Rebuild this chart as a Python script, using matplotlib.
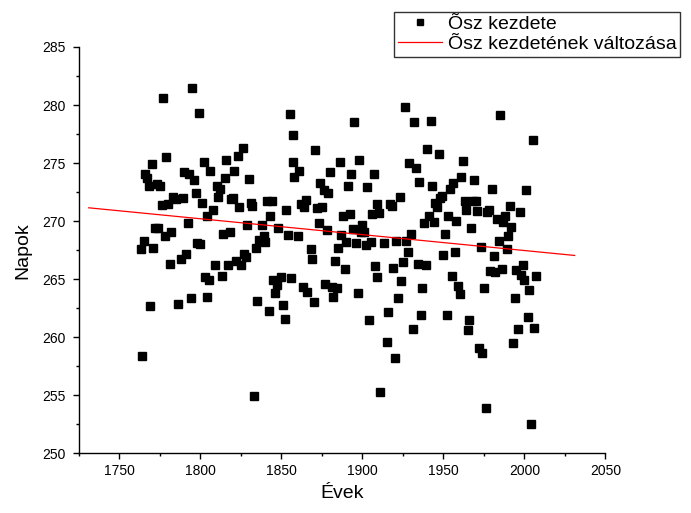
import numpy as np
import matplotlib
matplotlib.use("Agg")
import matplotlib.pyplot as plt
from matplotlib.ticker import MultipleLocator

plt.rcParams["font.family"] = ["Liberation Sans", "DejaVu Sans"]

# Autumn onset, day of year, one row per observed year
YEARS = [
    1763, 1764, 1765, 1766, 1767, 1768, 1769, 1770, 1771, 1772,
    1773, 1774, 1775, 1776, 1777, 1778, 1779, 1780, 1781, 1782,
    1783, 1785, 1786, 1788, 1789, 1790, 1791, 1792, 1793, 1794,
    1795, 1796, 1797, 1798, 1799, 1800, 1801, 1802, 1803, 1804,
    1804, 1805, 1806, 1808, 1809, 1810, 1811, 1812, 1813, 1814,
    1815, 1816, 1817, 1818, 1819, 1820, 1821, 1822, 1823, 1824,
    1825, 1826, 1827, 1828, 1829, 1830, 1831, 1832, 1833, 1834,
    1835, 1836, 1838, 1839, 1840, 1841, 1842, 1843, 1844, 1845,
    1846, 1847, 1848, 1850, 1851, 1852, 1853, 1854, 1855, 1856,
    1857, 1857, 1858, 1860, 1861, 1862, 1863, 1864, 1865, 1866,
    1868, 1869, 1870, 1871, 1872, 1873, 1874, 1875, 1876, 1877,
    1878, 1879, 1880, 1881, 1882, 1883, 1884, 1885, 1886, 1887,
    1888, 1889, 1890, 1891, 1892, 1893, 1894, 1895, 1896, 1897,
    1898, 1899, 1900, 1901, 1902, 1903, 1904, 1905, 1906, 1907,
    1908, 1909, 1909, 1910, 1911, 1913, 1915, 1916, 1917, 1918,
    1919, 1920, 1921, 1922, 1923, 1924, 1925, 1926, 1927, 1928,
    1929, 1930, 1931, 1932, 1933, 1934, 1935, 1936, 1937, 1938,
    1939, 1940, 1941, 1942, 1943, 1944, 1945, 1946, 1947, 1948,
    1949, 1950, 1951, 1952, 1953, 1954, 1955, 1956, 1957, 1958,
    1959, 1960, 1961, 1962, 1963, 1964, 1965, 1966, 1967, 1968,
    1969, 1970, 1971, 1972, 1973, 1974, 1975, 1976, 1977, 1978,
    1979, 1980, 1981, 1982, 1983, 1984, 1985, 1986, 1987, 1988,
    1989, 1990, 1991, 1992, 1993, 1994, 1995, 1996, 1997, 1998,
    1999, 2000, 2001, 2002, 2003, 2004, 2005, 2006, 2007,
]
ONSET_DAY = [
    267.6, 258.4, 268.3, 274.1, 273.7, 273.0, 262.7, 274.9, 267.7, 269.4,
    273.2, 269.4, 273.0, 271.4, 280.6, 268.7, 275.5, 271.5, 266.3, 269.1,
    272.1, 271.9, 262.9, 266.7, 272.0, 274.2, 267.2, 269.8, 274.1, 263.4,
    281.5, 273.5, 272.4, 268.1, 279.3, 268.0, 271.6, 275.1, 265.2, 270.4,
    263.5, 264.9, 274.3, 271.0, 266.2, 273.0, 272.1, 272.8, 265.3, 268.9,
    273.7, 275.3, 266.2, 269.1, 271.9, 272.0, 274.3, 266.6, 275.6, 271.2,
    266.2, 276.3, 267.2, 266.9, 269.7, 273.6, 271.6, 271.3, 254.9, 267.7,
    263.1, 268.4, 269.7, 268.7, 268.2, 271.7, 262.3, 270.4, 271.7, 264.9,
    263.8, 264.5, 269.4, 265.2, 262.8, 261.6, 271.0, 268.8, 279.2, 265.1,
    277.4, 275.1, 273.8, 268.7, 274.3, 271.5, 264.3, 271.2, 271.8, 263.9,
    267.6, 266.7, 263.0, 276.1, 271.1, 269.8, 273.3, 271.2, 272.7, 264.6,
    269.2, 272.4, 274.2, 264.3, 263.5, 266.6, 264.2, 267.7, 275.1, 268.8,
    270.4, 265.9, 268.2, 273.0, 270.6, 274.1, 269.3, 278.5, 268.1, 263.8,
    275.3, 269.1, 269.7, 269.1, 267.9, 272.9, 261.5, 268.2, 270.6, 274.1,
    266.1, 271.5, 265.2, 270.7, 255.3, 268.1, 259.6, 262.2, 271.5, 271.3,
    266.0, 258.2, 268.3, 263.4, 272.1, 264.8, 266.5, 279.8, 268.3, 267.3,
    275.0, 268.9, 260.7, 278.5, 274.6, 266.3, 273.4, 261.9, 264.2, 269.8,
    266.2, 276.2, 270.4, 278.6, 273.0, 269.9, 271.6, 271.2, 275.8, 272.0,
    272.2, 267.1, 268.9, 261.9, 270.4, 272.8, 265.3, 273.3, 267.3, 270.0,
    264.4, 263.7, 273.8, 275.2, 271.7, 271.0, 260.6, 261.5, 269.4, 271.7,
    273.5, 271.7, 270.9, 259.1, 267.8, 258.6, 264.2, 253.9, 270.8, 271.0,
    265.7, 272.8, 267.0, 265.6, 270.2, 268.3, 279.1, 265.9, 269.9, 270.4,
    267.6, 268.7, 271.3, 269.5, 259.5, 263.4, 265.8, 260.7, 270.8, 265.4,
    266.2, 264.9, 272.7, 261.7, 264.1, 252.5, 277.0, 260.8, 265.3,
]

# span of the fitted trend line
TREND_SPAN = [1731, 2031]

X_TICKS = [1750, 1800, 1850, 1900, 1950, 2000, 2050]
Y_TICKS = [250, 255, 260, 265, 270, 275, 280, 285]


def main():
    years = np.array(YEARS, dtype=float)
    days = np.array(ONSET_DAY)
    slope, intercept = np.polyfit(years, days, 1)
    trend_x = np.array(TREND_SPAN, dtype=float)
    trend_y = slope * trend_x + intercept

    fig = plt.figure(figsize=(6.91, 5.13), dpi=100, facecolor="white")
    ax = fig.add_axes([0.1143, 0.1164, 0.7619, 0.7920])

    ax.plot(years, days, linestyle="none", marker="s", markersize=5.2,
            color="black", label="Õsz kezdete")
    ax.plot(trend_x, trend_y, color="red", linewidth=0.9,
            label="Õsz kezdetének változása")

    ax.set_xlim(1725, 2050)
    ax.set_ylim(250, 285)
    ax.set_xticks(X_TICKS)
    ax.set_yticks(Y_TICKS)
    ax.xaxis.set_minor_locator(MultipleLocator(25))
    ax.yaxis.set_minor_locator(MultipleLocator(2.5))

    for side in ("top", "right"):
        ax.spines[side].set_visible(False)
    for side in ("left", "bottom"):
        ax.spines[side].set_linewidth(1.0)
    ax.tick_params(which="major", direction="out", length=4.5, width=1.0,
                   labelsize=10)
    ax.tick_params(which="minor", direction="out", length=2.5, width=1.0)
    ax.tick_params(axis="y", which="major", pad=5)
    ax.tick_params(axis="x", which="major", pad=3)

    ax.set_xlabel("Évek", fontsize=14, labelpad=5)
    ax.set_ylabel("Napok", fontsize=14, labelpad=8)

    leg = fig.legend(loc="upper left", bbox_to_anchor=(0.570, 0.977),
                     fontsize=14, frameon=True, fancybox=False,
                     edgecolor="black", handlelength=2.3, handletextpad=0.26,
                     borderpad=0.2, labelspacing=0.12, borderaxespad=0.0,
                     markerscale=0.9)
    leg.get_frame().set_linewidth(1.0)

    fig.savefig("out.png", dpi=100, facecolor="white")


if __name__ == "__main__":
    main()
